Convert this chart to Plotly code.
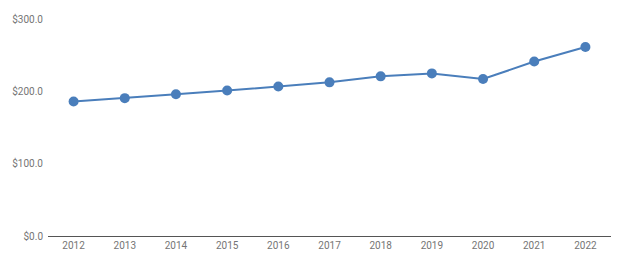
import plotly.graph_objects as go

years = ["2012", "2013", "2014", "2015", "2016", "2017", "2018", "2019", "2020", "2021", "2022"]
values = [186.0, 190.6, 196.0, 201.1, 206.6, 212.4, 220.7, 224.8, 217.0, 241.2, 261.3]
y_ticks = [0, 100, 200, 300]
y_tick_labels = ["$0.0", "$100.0", "$200.0", "$300.0"]

fig = go.Figure()
fig.add_trace(go.Scatter(
    x=years, y=values, mode="lines+markers",
    line=dict(color="#4a7ebb", width=2),
    marker=dict(color="#4a7ebb", size=10),
    hoverinfo="skip",
))
fig.update_layout(
    width=624, height=263,
    margin=dict(l=45, r=13, t=17, b=27),
    paper_bgcolor="white", plot_bgcolor="white",
    showlegend=False,
    font=dict(family="Roboto, Arial, sans-serif", size=10, color="#757575"),
    xaxis=dict(
        type="category", range=[-0.5, 10.5],
        showgrid=False, showline=True, linecolor="#555555", linewidth=1,
        ticks="", tickfont=dict(size=10, color="#757575"),
        zeroline=False,
    ),
    yaxis=dict(
        range=[0, 300], tickvals=y_ticks, ticktext=y_tick_labels,
        showgrid=False, showline=False, zeroline=False,
        ticks="", ticklabelstandoff=4,
        tickfont=dict(size=10, color="#757575"),
    ),
)
fig.write_html("out.html")
